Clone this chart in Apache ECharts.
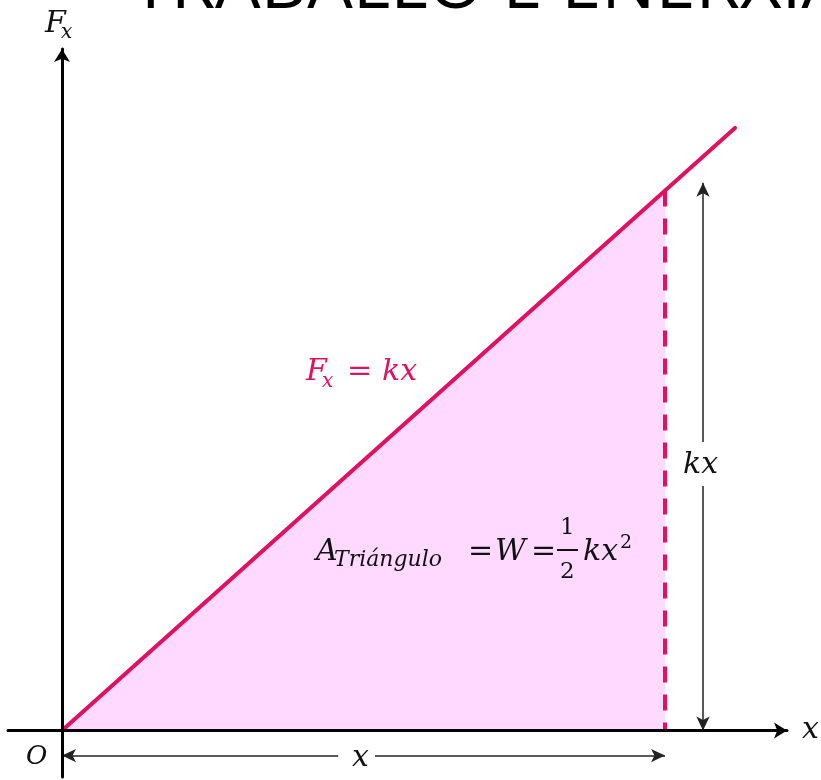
<!DOCTYPE html>
<html>
<head>
<meta charset="utf-8">
<script src="https://cdn.jsdelivr.net/npm/echarts@6/dist/echarts.min.js"></script>
<style>
  html, body { margin: 0; padding: 0; background: #fff; }
  #chart { width: 821px; height: 780px; }
</style>
</head>
<body>
<div id="chart"></div>
<script>
// F = kx, drawn in units where the marked displacement is x = 10
const lineX = [0, 11.16]
const lineF = [0, 10.0]
// shaded triangle under the line up to the marked x
const areaX = [0, 10]
const areaF = [0, 8.96]
// dimension arrows: kx (vertical) and x (horizontal)
const kxArrowX = 10.63
const kxArrowTop = 9.09
const kxGap = [4.06, 4.79]
const xArrowY = -0.415
const xGap = [4.58, 5.19]

const pink = '#e0115f'
const serif = '"DejaVu Serif", serif'
const ink = '#111'

const chart = echarts.init(document.getElementById('chart'))

function pairs(xs, ys) {
    return xs.map((x, i) => [x, ys[i]])
}

function seg(a, b, symA, symB) {
    return [
        { coord: a, symbol: symA },
        { coord: b, symbol: symB }
    ]
}

function label(text, left, top, size, color, italic) {
    return {
        type: 'text', left: left, top: top, z: 20,
        style: { text: text, font: (italic === false ? '' : 'italic ') + size + 'px ' + serif, fill: color || ink }
    }
}

const axisStyle = {
    type: 'value',
    z: 10,
    axisLine: {
        onZero: true,
        symbol: ['none', 'arrow'],
        symbolSize: [12, 13],
        lineStyle: { color: '#000', width: 3 }
    },
    axisTick: { show: false },
    axisLabel: { show: false },
    splitLine: { show: false }
}

chart.setOption({
    animation: false,
    grid: { left: 8, right: 34, top: 49, bottom: 3 },
    xAxis: Object.assign({}, axisStyle, { min: -0.8955, max: 12.023 }),
    yAxis: Object.assign({}, axisStyle, { min: -0.771, max: 11.31 }),
    series: [
        {
            type: 'line',
            data: pairs(areaX, areaF),
            symbol: 'none',
            lineStyle: { width: 0 },
            areaStyle: { color: '#ffd9ff', opacity: 1 },
            z: 1
        },
        {
            type: 'line',
            data: [[areaX[1], areaF[1]], [areaX[1], 0]],
            symbol: 'none',
            lineStyle: { color: pink, width: 4, type: [16, 12] },
            z: 2
        },
        {
            type: 'line',
            data: pairs(lineX, lineF),
            symbol: 'none',
            lineStyle: { color: pink, width: 4, cap: 'round' },
            z: 3
        },
        {
            type: 'line',
            data: [],
            markLine: {
                silent: true,
                animation: false,
                label: { show: false },
                symbolSize: [10, 14],
                data: [
                    seg([kxArrowX, kxGap[1]], [kxArrowX, kxArrowTop], 'none', 'arrow'),
                    seg([kxArrowX, kxGap[0]], [kxArrowX, 0], 'none', 'arrow'),
                    seg([xGap[0], xArrowY], [0, xArrowY], 'none', 'arrow'),
                    seg([xGap[1], xArrowY], [areaX[1], xArrowY], 'none', 'arrow')
                ],
                lineStyle: { color: '#222', width: 1.5, type: 'solid' }
            }
        }
    ],
    graphic: [
        // heading cut by the top edge
        {
            type: 'text', left: 131, top: -49,
            style: { text: 'TRABALLO E ENERXÍA', font: '72px "Open Sans", sans-serif', fill: '#000' }
        },
        // axis names
        label('F', 45, 9, 30),
        label('x', 61, 23, 20),
        label('x', 802, 715, 30),
        label('O', 26, 744, 26),
        // line label
        label('F', 306, 357, 30, pink),
        label('x', 322, 372, 20, pink),
        label('=', 347, 357, 30, pink),
        label('kx', 382, 357, 30, pink),
        // dimension labels
        label('kx', 683, 450, 30),
        label('x', 352, 743, 30),
        // area formula
        label('A', 316, 537, 30),
        label('Triángulo', 334, 549, 22),
        label('=', 468, 537, 30),
        label('W', 495, 537, 30),
        label('=', 531, 537, 30),
        label('1', 560, 517, 23, ink, false),
        { type: 'rect', z: 20, shape: { x: 557, y: 549, width: 21, height: 2 }, style: { fill: ink } },
        label('2', 560, 561, 23, ink, false),
        label('kx', 583, 537, 30),
        label('2', 620, 534, 19, ink, false)
    ]
})
</script>
</body>
</html>
